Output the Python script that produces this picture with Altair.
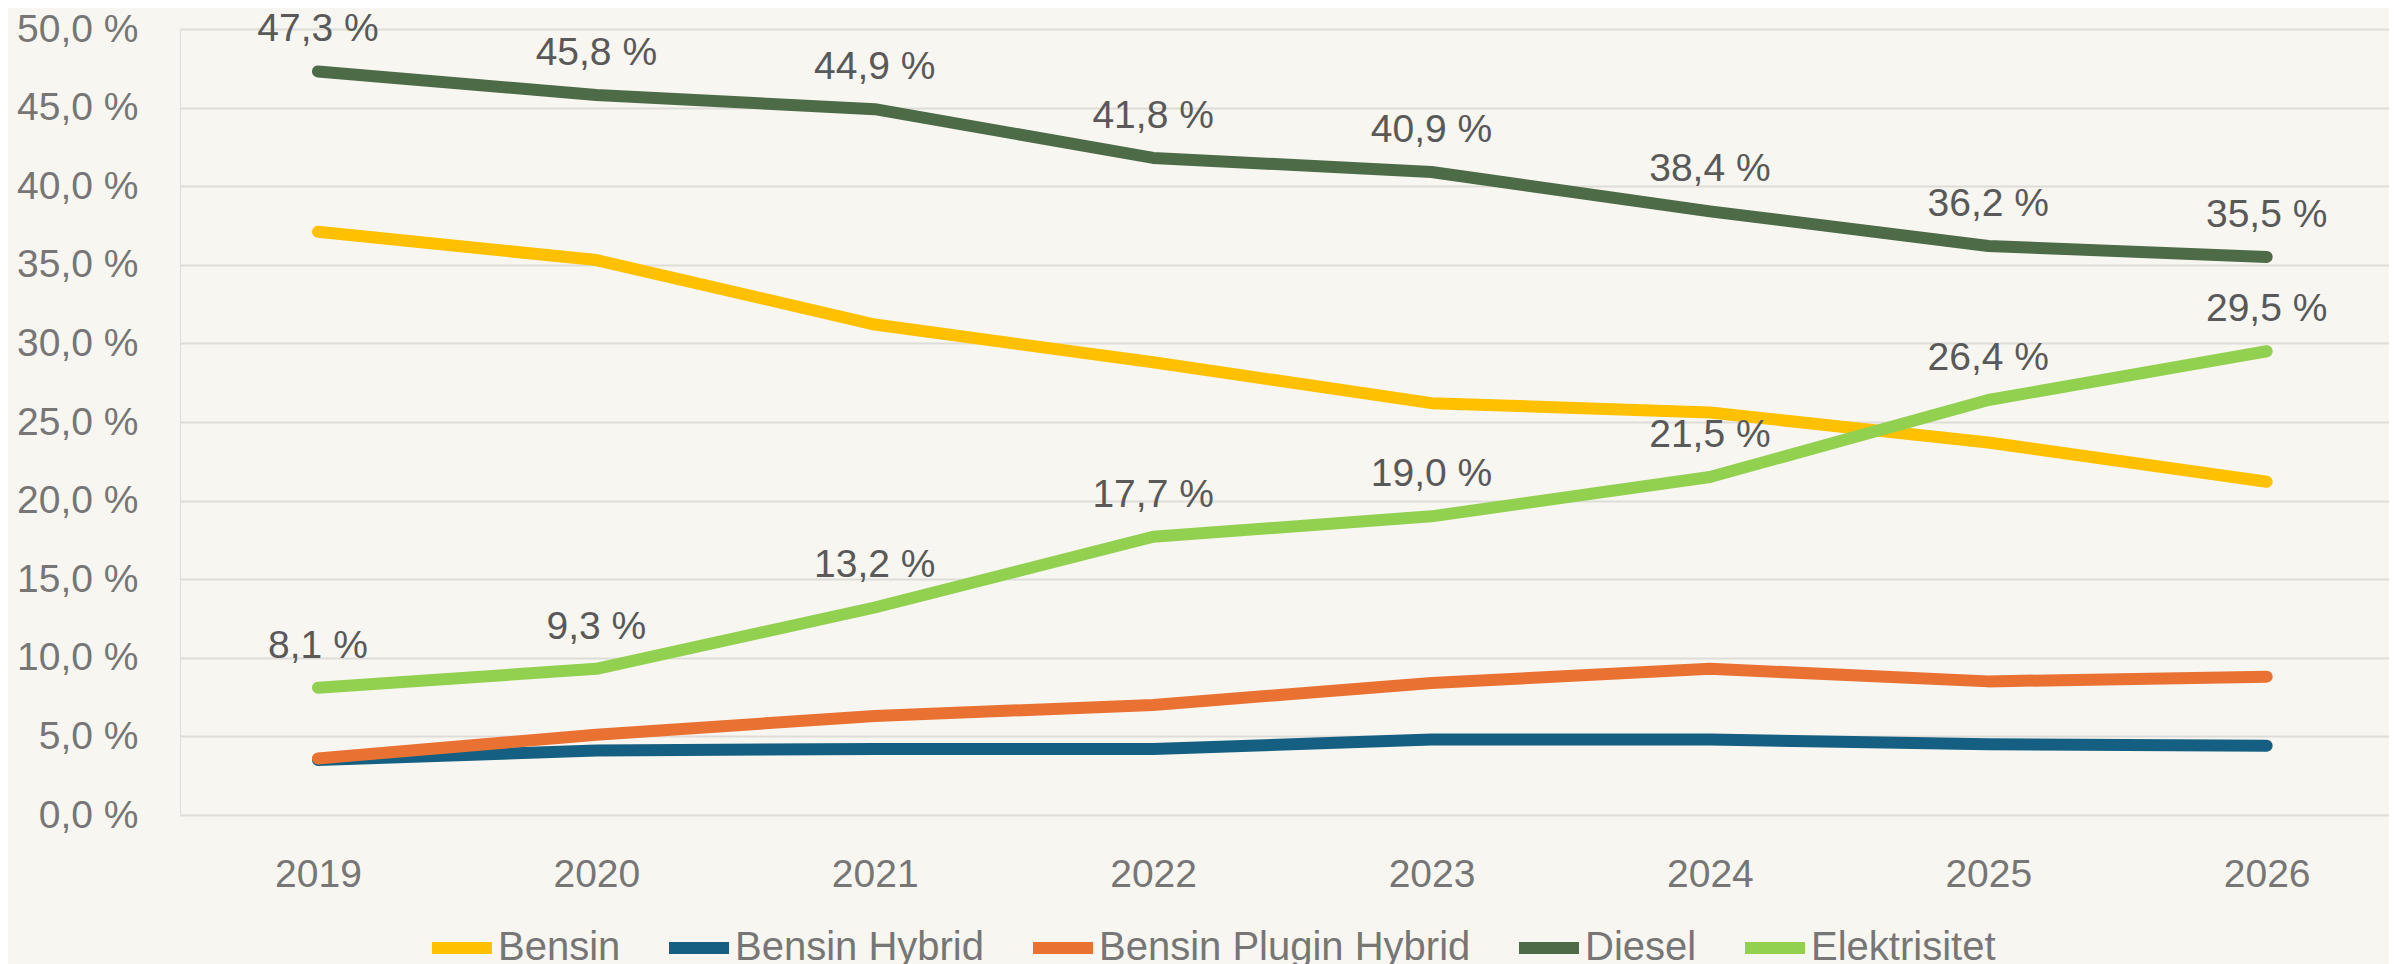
import altair as alt
import pandas as pd

years = ["2019", "2020", "2021", "2022", "2023", "2024", "2025", "2026"]
series = ["Bensin", "Bensin Hybrid", "Bensin Plugin Hybrid", "Diesel", "Elektrisitet"]
colors = ["#FFC000", "#156082", "#E97132", "#4E6B48", "#92D050"]

bensin = [37.1, 35.3, 31.2, 28.8, 26.2, 25.6, 23.7, 21.2]
bensin_hybrid = [3.5, 4.1, 4.2, 4.2, 4.8, 4.8, 4.5, 4.4]
bensin_plugin = [3.6, 5.1, 6.3, 7.0, 8.4, 9.3, 8.5, 8.8]
diesel = [47.3, 45.8, 44.9, 41.8, 40.9, 38.4, 36.2, 35.5]
elektrisitet = [8.1, 9.3, 13.2, 17.7, 19.0, 21.5, 26.4, 29.5]

labelled_series = ["Diesel", "Elektrisitet"]

rows = []
for k, (name, vals) in enumerate(zip(series, [bensin, bensin_hybrid, bensin_plugin, diesel, elektrisitet])):
    for yr, v in zip(years, vals):
        rows.append({
            "year": yr,
            "series": name,
            "value": v,
            "k": k,
            "label": f"{v:.1f}".replace(".", ",") + " %",
        })
df = pd.DataFrame(rows)

FONT = "Liberation Sans"
FS = 39
AXIS_COLOR = "#767676"

x_enc = alt.X(
    "year:O",
    scale=alt.Scale(type="point", padding=0.4675, align=0.53),
    axis=alt.Axis(
        title=None, labelAngle=0, labelFontSize=FS, labelColor=AXIS_COLOR,
        labelFont=FONT, labelPadding=40, ticks=False, domain=False, grid=False,
    ),
)
y_enc = alt.Y(
    "value:Q",
    scale=alt.Scale(domain=[0, 50], nice=False, zero=True),
    axis=alt.Axis(
        title=None, values=list(range(0, 51, 5)),
        labelExpr="replace(format(datum.value, '.1f'), '.', ',') + ' %'",
        grid=True, gridColor="#DEDCD8", gridWidth=2, ticks=False, domain=False,
        labelPadding=42, labelFontSize=FS, labelColor=AXIS_COLOR, labelFont=FONT,
    ),
)

lines = alt.Chart(df).mark_line(strokeWidth=12, strokeCap="round", strokeJoin="round").encode(
    x=x_enc,
    y=y_enc,
    color=alt.Color(
        "series:N",
        sort=series,
        scale=alt.Scale(domain=series, range=colors),
        legend=alt.Legend(
            title=None, orient="none", legendX=242, legendY=883, direction="horizontal",
            symbolType="stroke", symbolSize=3600, symbolStrokeWidth=12, symbolOffset=4,
            labelFontSize=40, labelColor=AXIS_COLOR, labelFont=FONT, labelLimit=0,
            columnPadding=24, labelOffset=0, padding=0,
        ),
    ),
    detail="series:N",
)

texts = alt.Chart(df).transform_filter(
    alt.FieldOneOfPredicate(field="series", oneOf=labelled_series)
).mark_text(
    dy=-30, baseline="alphabetic", align="center", fontSize=FS, color="#595959", font=FONT
).encode(
    x=alt.X("year:O", scale=alt.Scale(type="point", padding=0.4675, align=0.53)),
    y=alt.Y("value:Q"),
    text="label:N",
)

chart = alt.layer(lines, texts).properties(
    width=2209,
    height=786,
    background="#F7F6F0",
    autosize=alt.AutoSizeParams(type="none"),
    padding={"left": 172, "top": 21, "right": 0, "bottom": 149},
).configure_view(stroke=None).configure(font=FONT)

chart.save("out.html", embed_options={"renderer": "svg", "actions": False})
